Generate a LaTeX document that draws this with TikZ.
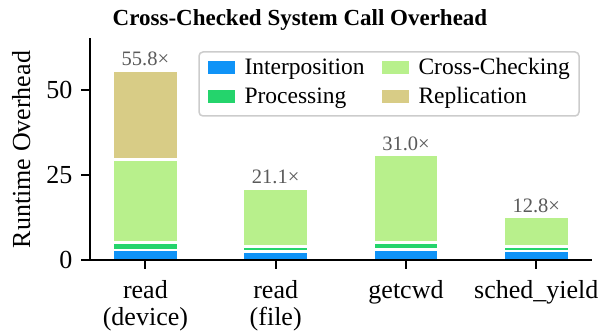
\documentclass[tikz,border=0pt]{standalone}
\usepackage{fontspec}
\setmainfont{Liberation Serif}
\definecolor{cInter}{HTML}{0F93F7}
\definecolor{cProc}{HTML}{24D46C}
\definecolor{cCross}{HTML}{B8F08C}
\definecolor{cRepl}{HTML}{D8CC86}
\definecolor{cLabel}{HTML}{5A5A5A}
\definecolor{cFrame}{HTML}{CCCCCC}
\begin{document}
\begin{tikzpicture}[x=1pt,y=-1pt,
  seg/.style={draw=white,line width=2.5pt},
  axisline/.style={line width=2pt,black},
  tickmark/.style={line width=2pt,black},
  ticklab/.style={font=\fontsize{26}{30}\selectfont,inner sep=0pt},
  vallab/.style={font=\fontsize{20.5}{24}\selectfont,text=cLabel,inner sep=0pt,anchor=base},
  legtext/.style={font=\fontsize{23.5}{28}\selectfont,inner sep=0pt,anchor=base west},
]
\useasboundingbox (0,0) rectangle (600,334);

% title
\node[font=\fontsize{23}{27}\selectfont\bfseries,inner sep=0pt,anchor=base] (title) at (300,25.5) {Cross-Checked System Call Overhead};

% stacked bars (value axis: 0 at y=260, 3.4 per unit)
\begin{scope}[shift={(0pt,-260pt)},y=3.4pt]
  % read (device)
  \filldraw[seg,fill=cInter] (112.9,0) rectangle (177.9,2.9);
  \filldraw[seg,fill=cProc]  (112.9,2.9) rectangle (177.9,5.1);
  \filldraw[seg,fill=cCross] (112.9,5.1) rectangle (177.9,29.6);
  \filldraw[seg,fill=cRepl]  (112.9,29.6) rectangle (177.9,55.8);
  % read (file)
  \filldraw[seg,fill=cInter] (243.2,0) rectangle (308.2,2.5);
  \filldraw[seg,fill=cProc]  (243.2,2.5) rectangle (308.2,3.9);
  \filldraw[seg,fill=cCross] (243.2,3.9) rectangle (308.2,21.1);
  % getcwd
  \filldraw[seg,fill=cInter] (373.5,0) rectangle (438.5,3.1);
  \filldraw[seg,fill=cProc]  (373.5,3.1) rectangle (438.5,5.1);
  \filldraw[seg,fill=cCross] (373.5,5.1) rectangle (438.5,31.0);
  % sched_yield
  \filldraw[seg,fill=cInter] (503.8,0) rectangle (568.8,2.7);
  \filldraw[seg,fill=cProc]  (503.8,2.7) rectangle (568.8,4.0);
  \filldraw[seg,fill=cCross] (503.8,4.0) rectangle (568.8,12.8);
\end{scope}

% value labels
\node[vallab] (v1) at (145.4,66.0) {55.8×};
\node[vallab] (v2) at (275.7,184.0) {21.1×};
\node[vallab] (v3) at (406.0,150.3) {31.0×};
\node[vallab] (v4) at (536.3,212.2) {12.8×};

% axes
\coordinate (ytop) at (90,38.5);
\coordinate (orig) at (90,260);
\coordinate (xend) at (592,260);
\draw[axisline] (ytop) -- (orig) -- (xend);

% y ticks and labels
\foreach \v/\yy in {0/260,25/175,50/90}{
  \draw[tickmark] (81,\yy) -- (90,\yy);
  \node[ticklab,anchor=east] (yt\v) at (72.5,\yy) {\v};
}
\node[ticklab,rotate=90,anchor=base] (ylab) at (30,149.5) {Runtime Overhead};

% x ticks and labels
\foreach \cx in {145.4,275.7,406.0,536.3}{
  \draw[tickmark] (\cx,260) -- (\cx,269);
}
\node[ticklab,anchor=base] (x1a) at (145.4,298) {read};
\node[ticklab,anchor=base] (x1b) at (145.4,325) {(device)};
\node[ticklab,anchor=base] (x2a) at (275.7,298) {read};
\node[ticklab,anchor=base] (x2b) at (275.7,325) {(file)};
\node[ticklab,anchor=base] (x3a) at (406.0,298) {getcwd};
\node[ticklab,anchor=base] (x4a) at (536.3,298) {sched\_yield};

% legend
\draw[cFrame,line width=1.5pt,fill=white,fill opacity=0.8,rounded corners=4pt] (199,52) rectangle (579,116);
\fill[cInter] (208.3,61) rectangle (235,74);
\fill[cProc]  (208.3,90) rectangle (235,103);
\fill[cCross] (382.3,61) rectangle (409,74);
\fill[cRepl]  (382.3,90) rectangle (409,103);
\node[legtext] (l1) at (244.3,75) {Interposition};
\node[legtext] (l2) at (244.3,104) {Processing};
\node[legtext] (l3) at (418.3,75) {Cross-Checking};
\node[legtext] (l4) at (418.3,104) {Replication};
\end{tikzpicture}
\end{document}
